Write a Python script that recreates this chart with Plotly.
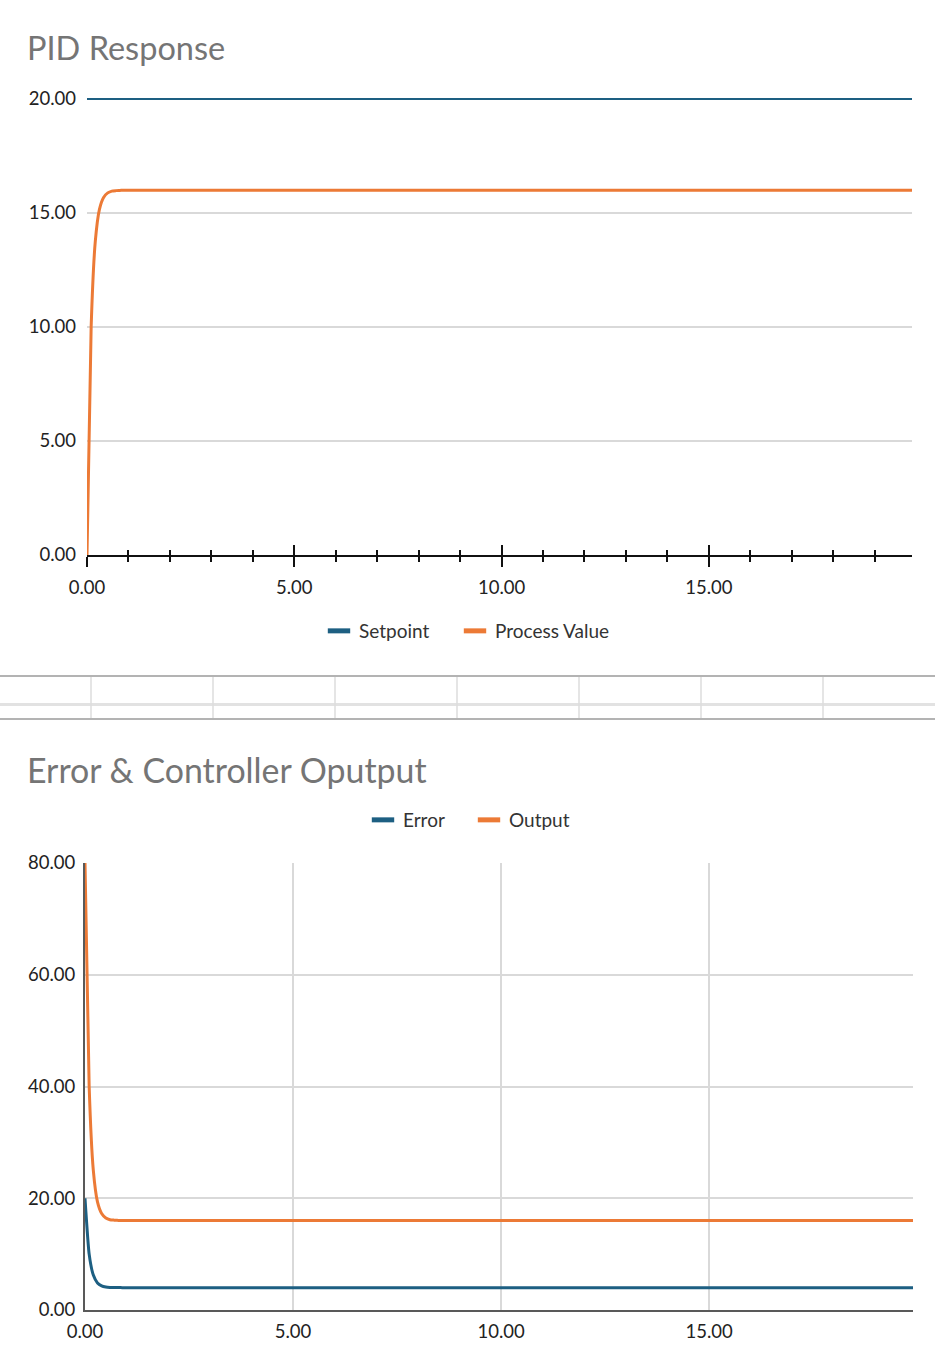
import plotly.graph_objects as go

# ---------------- data ----------------
time = [0.0, 0.1, 0.2, 0.3, 0.4, 0.5, 0.6, 0.7, 0.8, 0.9, 1.0,
        2.0, 3.0, 4.0, 5.0, 6.0, 7.0, 8.0, 9.0, 10.0, 11.0, 12.0,
        13.0, 14.0, 15.0, 16.0, 17.0, 18.0, 19.0, 19.9]

setpoint = [20.0, 20.0, 20.0, 20.0, 20.0, 20.0, 20.0, 20.0, 20.0, 20.0, 20.0,
            20.0, 20.0, 20.0, 20.0, 20.0, 20.0, 20.0, 20.0, 20.0, 20.0, 20.0,
            20.0, 20.0, 20.0, 20.0, 20.0, 20.0, 20.0, 20.0]

process_value = [0.0, 10.0, 13.75, 15.16, 15.68, 15.88, 15.96, 15.98, 15.99, 16.0, 16.0,
                 16.0, 16.0, 16.0, 16.0, 16.0, 16.0, 16.0, 16.0, 16.0, 16.0, 16.0,
                 16.0, 16.0, 16.0, 16.0, 16.0, 16.0, 16.0, 16.0]

error = [20.0, 10.0, 6.25, 4.84, 4.32, 4.12, 4.04, 4.02, 4.01, 4.0, 4.0,
         4.0, 4.0, 4.0, 4.0, 4.0, 4.0, 4.0, 4.0, 4.0, 4.0, 4.0,
         4.0, 4.0, 4.0, 4.0, 4.0, 4.0, 4.0, 4.0]

output = [80.0, 40.0, 25.0, 19.36, 17.28, 16.48, 16.16, 16.08, 16.04, 16.0, 16.0,
          16.0, 16.0, 16.0, 16.0, 16.0, 16.0, 16.0, 16.0, 16.0, 16.0, 16.0,
          16.0, 16.0, 16.0, 16.0, 16.0, 16.0, 16.0, 16.0]

title_1 = "PID Response"
title_2 = "Error & Controller Oputput"
x_range = [0.0, 19.9]

# ---------------- style ----------------
W, H = 935, 1367
BLUE = "#1d5f82"
ORANGE = "#ec7a36"
FONT = "Lato, 'Open Sans', sans-serif"
GRID = "#d9d9d9"


def px(x):
    return x / W


def py(y):
    return 1 - y / H


fig = go.Figure()

# chart 1 traces
fig.add_trace(go.Scatter(x=time, y=setpoint, mode="lines", line=dict(color=BLUE, width=2),
                         xaxis="x", yaxis="y", showlegend=False, hoverinfo="skip"))
fig.add_trace(go.Scatter(x=time, y=process_value, mode="lines",
                         line=dict(color=ORANGE, width=3, shape="spline", smoothing=0.5),
                         xaxis="x", yaxis="y", showlegend=False, hoverinfo="skip"))
# invisible trace so the overlaid tick axis (inside half of the cross ticks) is drawn
fig.add_trace(go.Scatter(x=[None], y=[None], mode="lines", xaxis="x3", yaxis="y",
                         showlegend=False, hoverinfo="skip"))
# chart 2 traces
fig.add_trace(go.Scatter(x=time, y=error, mode="lines",
                         line=dict(color=BLUE, width=3, shape="spline", smoothing=0.5),
                         xaxis="x2", yaxis="y2", showlegend=False, hoverinfo="skip"))
fig.add_trace(go.Scatter(x=time, y=output, mode="lines",
                         line=dict(color=ORANGE, width=3, shape="spline", smoothing=0.5),
                         xaxis="x2", yaxis="y2", showlegend=False, hoverinfo="skip"))

# legend entries (short thick swatches), one legend box per entry
legend_entries = [("Setpoint", BLUE, "legend", "x", "y"),
                  ("Process Value", ORANGE, "legend2", "x", "y"),
                  ("Error", BLUE, "legend3", "x2", "y2"),
                  ("Output", ORANGE, "legend4", "x2", "y2")]
for name, col, lg, xa, ya in legend_entries:
    fig.add_trace(go.Scatter(x=[None], y=[None], mode="markers", name=name, legend=lg,
                             xaxis=xa, yaxis=ya,
                             marker=dict(symbol="line-ew", size=21,
                                         line=dict(width=7, color=col))))

tickfont = dict(family=FONT, size=18.5, color="#222222")
legfont = dict(family=FONT, size=19, color="#333333")


def legend_box(x_px, y_px):
    return dict(orientation="h", x=px(x_px), y=py(y_px), xanchor="left", yanchor="middle",
                font=legfont, bgcolor="rgba(0,0,0,0)", itemwidth=30, itemclick=False)


fig.update_layout(
    width=W, height=H,
    margin=dict(l=0, r=0, t=0, b=0, autoexpand=False),
    paper_bgcolor="white", plot_bgcolor="white",
    font=dict(family=FONT, size=17, color="#333333"),
    xaxis=dict(domain=[px(87), px(912)], anchor="y", range=x_range,
               showgrid=False, zeroline=False,
               showline=True, linecolor="#111111", linewidth=2,
               ticks="outside", ticklen=10, tickwidth=2, tickcolor="#111111",
               tick0=0, dtick=5, tickformat=".2f", tickfont=tickfont,
               ticklabelstandoff=5,
               minor=dict(ticks="outside", ticklen=5, tickwidth=1.5,
                          tickcolor="#111111", dtick=1, showgrid=False)),
    xaxis3=dict(overlaying="x", anchor="y", range=x_range,
                showgrid=False, zeroline=False, showline=False, showticklabels=False,
                ticks="inside", ticklen=10, tickwidth=2, tickcolor="#111111",
                tick0=0, dtick=5,
                minor=dict(ticks="inside", ticklen=5, tickwidth=1.5,
                           tickcolor="#111111", dtick=1, showgrid=False)),
    yaxis=dict(domain=[py(555), py(94.4)], anchor="x", range=[0, 20.2],
               showline=False, zeroline=False, ticks="",
               showgrid=True, gridcolor=GRID, gridwidth=1.5,
               tick0=0, dtick=5, tickformat=".2f", tickfont=tickfont,
               ticklabelstandoff=10),
    xaxis2=dict(domain=[px(85), px(913)], anchor="y2", range=x_range,
                showgrid=True, gridcolor=GRID, gridwidth=1.5, zeroline=False,
                showline=True, linecolor="#595959", linewidth=2,
                ticks="", tick0=0, dtick=5, tickformat=".2f", tickfont=tickfont,
                ticklabelstandoff=4),
    yaxis2=dict(domain=[py(1310), py(863)], anchor="x2", range=[0, 80],
                showgrid=True, gridcolor=GRID, gridwidth=1.5, zeroline=False,
                showline=True, linecolor="#595959", linewidth=2,
                ticks="", tick0=0, dtick=20, tickformat=".2f", tickfont=tickfont,
                ticklabelstandoff=4),
    legend=legend_box(319, 631),
    legend2=legend_box(455, 631),
    legend3=legend_box(363, 820),
    legend4=legend_box(469, 820),
    annotations=[
        dict(text=title_1, xref="paper", yref="paper", x=px(25), y=py(47),
             xanchor="left", yanchor="middle", showarrow=False,
             font=dict(family=FONT, size=32.5, color="#757575")),
        dict(text=title_2, xref="paper", yref="paper", x=px(25), y=py(770),
             xanchor="left", yanchor="middle", showarrow=False,
             font=dict(family=FONT, size=33.9, color="#757575")),
    ],
)

# spreadsheet strip between the two charts
shapes = [
    dict(type="line", xref="paper", yref="paper", x0=0, x1=1, y0=py(676), y1=py(676),
         line=dict(color="#9a9a9a", width=1.5)),
    dict(type="line", xref="paper", yref="paper", x0=0, x1=1, y0=py(704.5), y1=py(704.5),
         line=dict(color="#e2e2e2", width=3)),
    dict(type="line", xref="paper", yref="paper", x0=0, x1=1, y0=py(719), y1=py(719),
         line=dict(color="#9a9a9a", width=1.5)),
]
for cx in [91, 213, 335, 457, 579, 701, 823]:
    shapes.append(dict(type="line", xref="paper", yref="paper", x0=px(cx), x1=px(cx),
                       y0=py(677), y1=py(718), line=dict(color="#dcdcdc", width=1.5)))
fig.update_layout(shapes=shapes)

fig.write_html("out.html",
               config={"displayModeBar": False},
               post_script="document.body.style.margin='0';"
                           "document.body.style.overflow='hidden';")
